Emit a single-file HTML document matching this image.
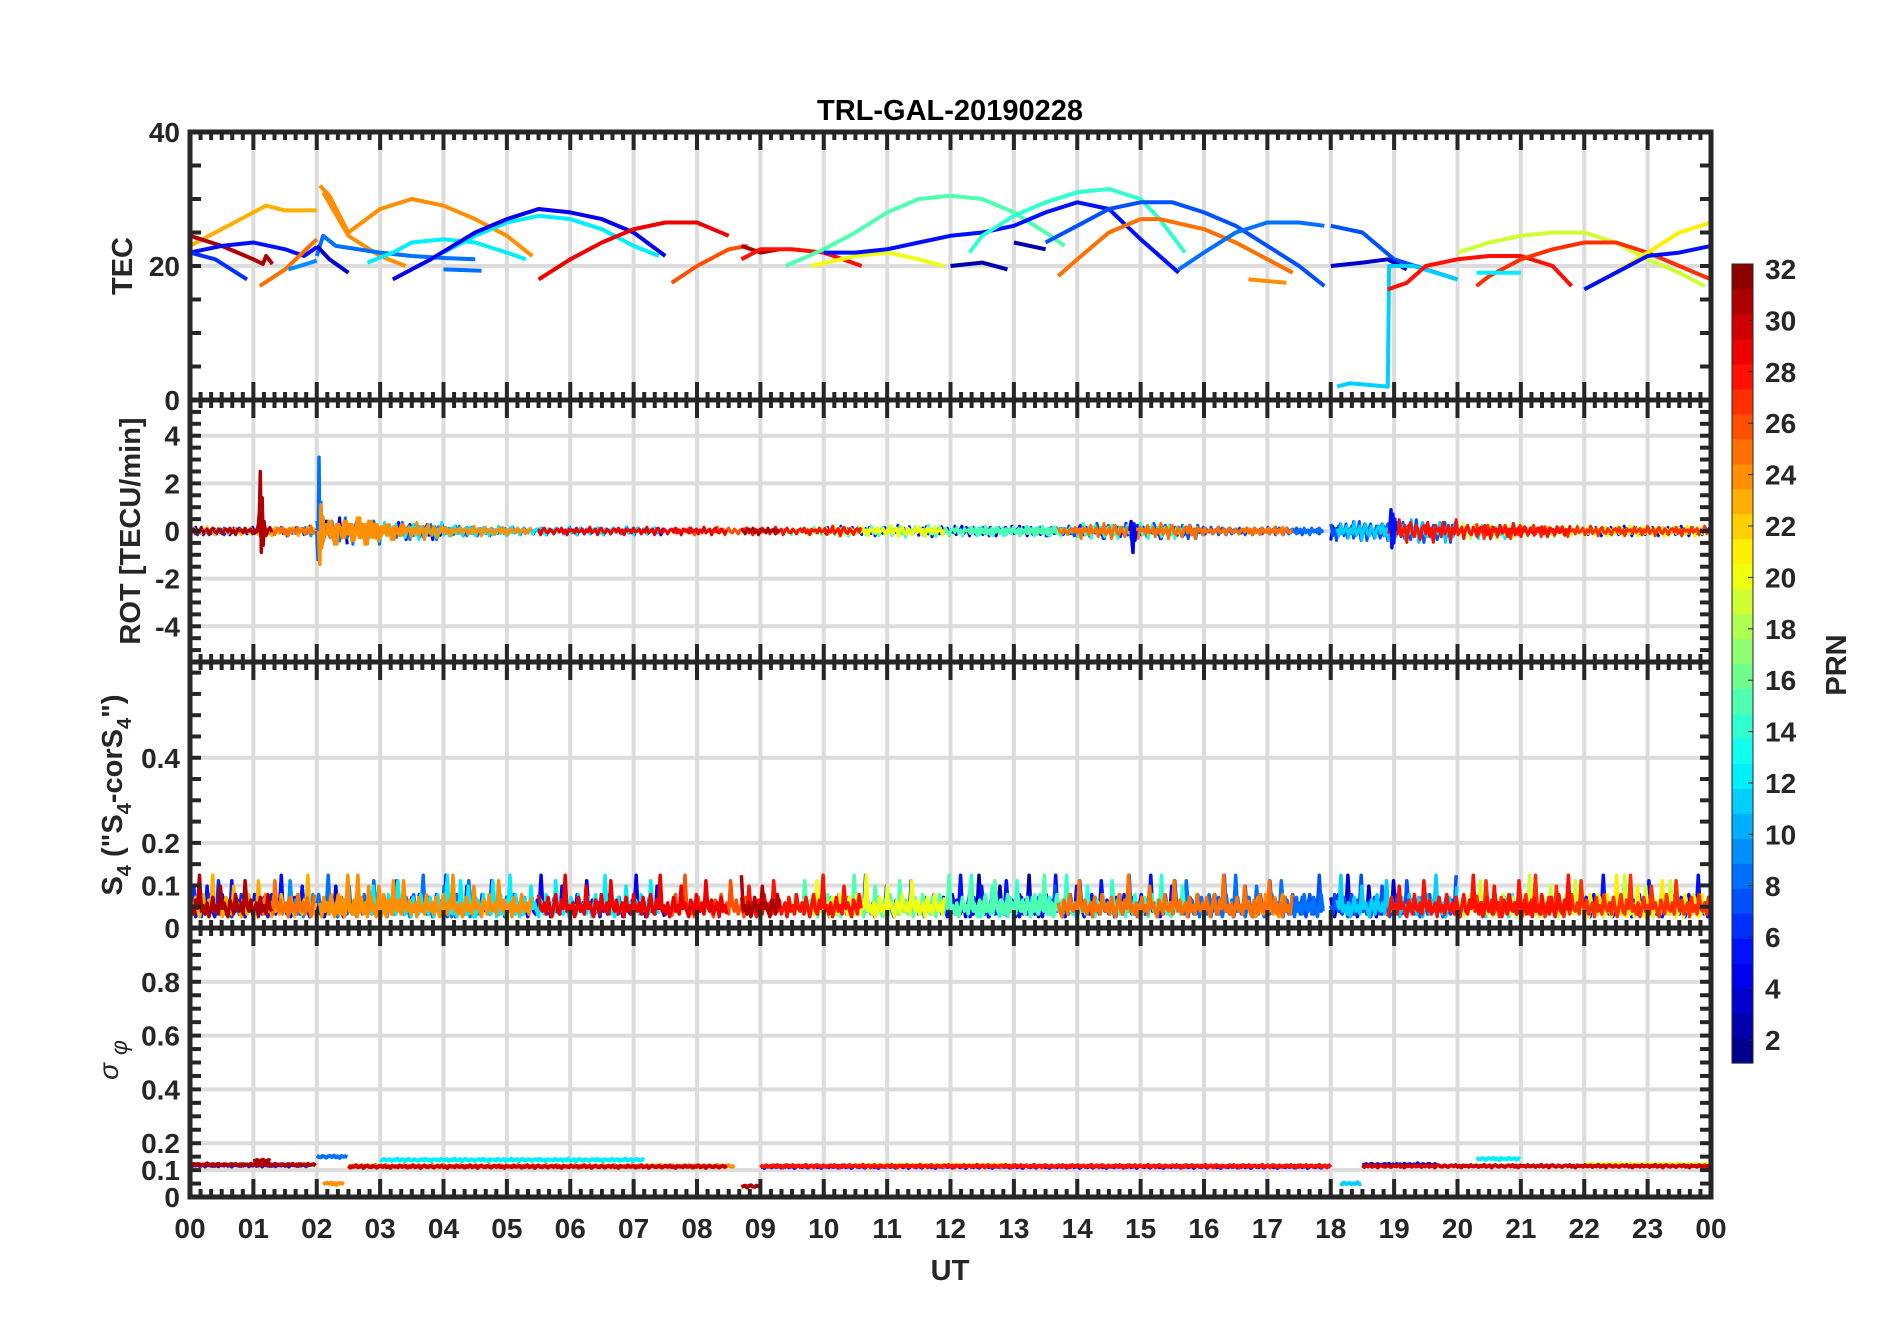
<!DOCTYPE html>
<html><head><meta charset="utf-8"><style>
html,body{margin:0;padding:0;background:#fff;}
svg{display:block;font-family:"Liberation Sans",Arial,sans-serif;}
</style></head><body>
<svg id="fig" width="1902" height="1330" viewBox="0 0 1902 1330" xmlns="http://www.w3.org/2000/svg">
<rect x="0" y="0" width="1902" height="1330" fill="#fff"/>
<g id="grid"></g>
<g id="data"></g>
<g id="axes"></g>
<g id="labels" fill="#262626" font-weight="bold"></g>
<text x="950" y="120" text-anchor="middle" font-size="29" font-weight="bold" fill="#000">TRL-GAL-20190228</text>
<text x="950" y="1280" text-anchor="middle" font-size="29" font-weight="bold" fill="#262626">UT</text>
<text transform="translate(132,266) rotate(-90)" text-anchor="middle" font-size="29" font-weight="bold" fill="#262626">TEC</text>
<text transform="translate(140,531) rotate(-90)" text-anchor="middle" font-size="29" font-weight="bold" fill="#262626">ROT [TECU/min]</text>
<text transform="translate(122,795) rotate(-90)" text-anchor="middle" font-size="29" font-weight="bold" fill="#262626">S<tspan font-size="20" dy="9">4</tspan><tspan dy="-9"> ("S</tspan><tspan font-size="20" dy="9">4</tspan><tspan dy="-9">-corS</tspan><tspan font-size="20" dy="9">4</tspan><tspan dy="-9">")</tspan></text>
<text transform="translate(118,1060) rotate(-90)" text-anchor="middle" font-size="28" font-style="italic" fill="#262626">σ <tspan font-size="23" dy="9">φ</tspan></text>
<g id="cbar"></g>
<text transform="translate(1846,665) rotate(-90)" text-anchor="middle" font-size="29" font-weight="bold" fill="#262626">PRN</text>
</svg>
<script>
// ---------------- data ----------------
const hourLabels = ["00","01","02","03","04","05","06","07","08","09","10","11","12","13","14","15","16","17","18","19","20","21","22","23","00"];
const tecTicks = [0,20,40];
const rotTicks = [-4,-2,0,2,4];
const s4Ticks = [0,0.1,0.2,0.4];
const sigTicks = [0,0.1,0.2,0.4,0.6,0.8];
const cbarTicks = [2,4,6,8,10,12,14,16,18,20,22,24,26,28,30,32];

const tecArcs = [
 {prn:23,t:[0,0.5,1,1.2,1.5,2],v:[23,25.5,28,29,28.3,28.3]},
 {prn:31,t:[0,0.5,1,1.15,1.2,1.3],v:[24.5,23,21,20.3,21.5,20.3]},
 {prn:5,t:[0,0.5,1,1.5,1.8,2],v:[22,23,23.5,22.5,21.5,22.8]},
 {prn:6,t:[0,0.4,0.9],v:[22,21,18]},
 {prn:25,t:[1.1,1.5,2],v:[17,19.5,24]},
 {prn:9,t:[1.55,1.8,2],v:[19.5,20.2,20.8]},
 {prn:24,t:[2.05,2.2,2.5,3,3.5,4,4.5,5,5.4],v:[32,30.5,25,28.5,30,29,27,24.5,21.5]},
 {prn:24,t:[2.1,2.5,3,3.4],v:[31,24.5,21.5,20]},
 {prn:8,t:[2,2.1,2.3,3,3.5,4,4.5],v:[21.5,24.5,23,22,21.5,21.2,21.0]},
 {prn:3,t:[2,2.2,2.5],v:[23,21,19]},
 {prn:12,t:[2.8,3.2,3.5,4,4.5,5,5.3],v:[20.5,22,23.5,24,23.5,22,21]},
 {prn:12,t:[4,4.5,5,5.5,6,6.5,7,7.4],v:[22,24.5,26.5,27.5,27,25.5,23,21.5]},
 {prn:4,t:[3.2,3.8,4.5,5,5.5,6,6.5,7,7.5],v:[18,21,25,27,28.5,28,27,25,21.5]},
 {prn:8,t:[4,4.6],v:[19.5,19.3]},
 {prn:29,t:[5.5,6,6.5,7,7.5,8,8.5],v:[18,21,23.5,25.5,26.5,26.5,24.5]},
 {prn:26,t:[7.6,8,8.5,8.8],v:[17.5,20,22.5,23]},
 {prn:31,t:[8.7,9,9.3],v:[23,22,22.5]},
 {prn:28,t:[8.7,9,9.5,10,10.6],v:[21,22.5,22.5,22,20]},
 {prn:15,t:[9.4,10,10.5,11,11.5,12,12.5,13,13.5,13.8],v:[20,22.5,25,28,30,30.5,30,28,25,23]},
 {prn:20,t:[9.8,10.5,11,11.5,11.9],v:[20,21.5,22,21,20]},
 {prn:5,t:[10,10.5,11,11.5,12,12.5,13,13.5,14,14.5,15,15.6],v:[22,22,22.5,23.5,24.5,25,26,28,29.5,28.5,24,19]},
 {prn:2,t:[12,12.5,12.9],v:[20,20.5,19.5]},
 {prn:2,t:[13,13.5],v:[23.5,22.5]},
 {prn:14,t:[12.3,12.5,13,13.5,14,14.5,15,15.3,15.7],v:[22,24.5,27.5,29.5,31,31.5,30,27,22]},
 {prn:7,t:[13.5,14,14.5,15,15.5,16,16.5,17,17.5,17.9],v:[23.5,26,28.5,29.5,29.5,28,26,23,20,17]},
 {prn:25,t:[13.7,14,14.5,15,15.3,16,16.5,17,17.4],v:[18.5,21,25,27,27,25.5,23.5,21,19]},
 {prn:8,t:[15.6,16,16.5,17,17.5,17.9],v:[19.5,22,25,26.5,26.5,26]},
 {prn:24,t:[16.7,17.3],v:[18,17.5]},
 {prn:7,t:[18,18.5,19,19.5,20],v:[26,25,21,19.5,18]},
 {prn:3,t:[18,18.5,18.9,19.2],v:[20,20.5,21,19.5]},
 {prn:11,t:[18.1,18.3,18.9,18.92,19.3,20],v:[2,2.5,2,20,20,18]},
 {prn:28,t:[18.9,19.2,19.5,20,20.5,21,21.5,21.8],v:[16.5,17.5,20,21,21.5,21.5,20,17]},
 {prn:19,t:[20,20.5,21,21.5,22,22.5,23,23.5,23.9],v:[22,23.5,24.5,25,25,23.5,21,19,17]},
 {prn:27,t:[20.3,20.5,21,21.5,22,22.5,23,23.5,24],v:[17,18.5,21,22.5,23.5,23.5,22,20,18]},
 {prn:12,t:[20.3,21],v:[19,19]},
 {prn:21,t:[22,22.5,23,23.5,24],v:[16.5,19,22,25,26.5]},
 {prn:5,t:[22,22.5,23,23.5,24],v:[16.5,19,21.5,22,23]}
];

const rotJit = [0.1,-0.2,0.3,-0.1,0.0,0.2,-0.3,0.1,-0.1,0.4,-0.2,0.0,0.2,-0.4,0.1,0.3,-0.1,-0.2,0.2,0.0,-0.3,0.1,0.2,-0.1,0.3,-0.2,0.1,-0.4,0.2,0.0];
const rotAmp = [0.4,0.5,1.4,0.9,0.5,0.4,0.4,0.4,0.4,0.4,0.5,0.6,0.5,0.5,0.8,0.8,0.4,0.4,1.0,1.2,0.8,0.6,0.5,0.5];
const rotSpikes = [
 {prn:31,t0:1.08,v:[0.3,0.8,2.5,-0.9,1.4,-0.6,0.4]},
 {prn:8,t0:2.02,v:[-1.2,3.1,-0.8,1.2,-0.5,0.6]},
 {prn:24,t0:2.05,v:[-1.4,1.1,-0.7,0.6,-0.3]},
 {prn:4,t0:14.85,v:[0.4,-0.5,-0.9,0.3,-0.4]},
 {prn:5,t0:18.95,v:[0.9,-0.7,0.7,-0.5,0.5]}
];

const s4Jit = [0.3,0.6,0.2,0.8,0.4,0.1,0.5,0.9,0.3,0.2,0.7,0.4,1.6,0.3,0.5,0.2,0.6,0.1,0.4,0.8,0.3,0.5,0.2,1.2,0.4,0.6,0.3,0.1,0.7,0.5,0.2,0.9,0.4,0.3,0.6,0.2,1.4,0.5,0.3,0.7,0.2,0.4,0.6,0.1,0.8,0.3,0.5,0.2,0.9,0.4];

const sigT0 = [0,0,1.0,2.0,2.1,2.5,3.0,2.5,8.7,9.0,10.5,9.0,18.15,18.5,18.5,20.3,22.0];
const sigT1 = [2.0,1.9,1.3,2.5,2.45,8.6,7.2,8.5,9.0,18.0,13.0,18.0,18.5,24,19.7,21.0,24];
const sigPrn = [31,5,31,8,24,24,12,30,31,28,20,5,11,30,4,12,20];
const sigLvl = [0.12,0.118,0.135,0.15,0.05,0.115,0.138,0.113,0.04,0.115,0.117,0.113,0.05,0.115,0.12,0.142,0.12];

// ---------------- layout ----------------
const L=190, R=1711;
const P = {
 tec:{top:132,bot:400,min:0,max:40},
 rot:{top:400,bot:662,min:-5.5,max:5.5},
 s4:{top:662,bot:928,min:0,max:0.625},
 sig:{top:928,bot:1197,min:0,max:1}
};
const NS="http://www.w3.org/2000/svg";
function xh(h){return L+h*(R-L)/24;}
function yv(p,v){return p.bot-(v-p.min)/(p.max-p.min)*(p.bot-p.top);}
function mk(tag,parent){const e=document.createElementNS(NS,tag);parent.appendChild(e);return e;}
function jet(i,n){const x=(i+0.5)/n;const c=v=>Math.round(255*Math.max(0,Math.min(1,v)));
 return `rgb(${c(1.5-Math.abs(4*x-3))},${c(1.5-Math.abs(4*x-2))},${c(1.5-Math.abs(4*x-1))})`;}
function prnColor(p){return jet(p-1,32);}

const grid=document.getElementById('grid'), data=document.getElementById('data'), axes=document.getElementById('axes'), labels=document.getElementById('labels');

function line(parent,x1,y1,x2,y2,col,w){const l=mk('line',parent);l.setAttribute('x1',x1);l.setAttribute('y1',y1);l.setAttribute('x2',x2);l.setAttribute('y2',y2);l.setAttribute('stroke',col);l.setAttribute('stroke-width',w);return l;}
function poly(parent,pts,col,w,name){const p=mk('polyline',parent);p.setAttribute('points',pts.map(q=>q[0].toFixed(1)+','+q[1].toFixed(1)).join(' '));p.setAttribute('fill','none');p.setAttribute('stroke',col);p.setAttribute('stroke-width',w);p.setAttribute('stroke-linejoin','round');
 
 
 return p;}

// grids
const panels=[['tec',tecTicks,5],['rot',rotTicks,0.5],['s4',s4Ticks,0.05],['sig',sigTicks,0.05]];
panels.forEach(([k,ticks])=>{const p=P[k];
 for(let h=1;h<24;h++) line(grid,xh(h),p.top,xh(h),p.bot,'#dcdcdc',4);
 ticks.forEach(v=>{const y=yv(p,v);if(y>p.top+3&&y<p.bot-3) line(grid,L,y,R,y,'#dcdcdc',4);});
});

// draw order: low PRN first, high PRN on top
const order = tecArcs.map((a,i)=>i).sort((a,b)=>tecArcs[a].prn-tecArcs[b].prn);

// TEC arcs
tecArcs.forEach(a=>{const pts=[];for(let i=0;i<a.t.length;i++)pts.push([xh(a.t[i]),yv(P.tec,a.v[i])]);poly(data,pts,prnColor(a.prn),4,'tec-arc-prn'+a.prn);});

// ROT
order.forEach(ai=>{const a=tecArcs[ai];const pts=[];const t0=a.t[0],t1=a.t[a.t.length-1];let k=ai*3;
 for(let h=t0;h<=t1;h+=0.03){const amp=rotAmp[Math.min(23,Math.floor(h))];pts.push([xh(h),yv(P.rot,rotJit[(k++)%rotJit.length]*amp)]);}
 poly(data,pts,prnColor(a.prn),3,'rot-series-prn'+a.prn);});
rotSpikes.forEach(s=>{const pts=[[xh(s.t0-0.02),yv(P.rot,0)]];s.v.forEach((v,i)=>pts.push([xh(s.t0+i*0.015),yv(P.rot,v)]));pts.push([xh(s.t0+s.v.length*0.015),yv(P.rot,0)]);poly(data,pts,prnColor(s.prn),3.5,'rot-spike-prn'+s.prn);});

// S4
order.forEach(ai=>{const a=tecArcs[ai];const pts=[];const t0=a.t[0],t1=a.t[a.t.length-1];let k=ai*7;
 for(let h=t0;h<=t1;h+=0.03){pts.push([xh(h),yv(P.s4,0.02+0.065*s4Jit[(k++)%s4Jit.length])]);}
 poly(data,pts,prnColor(a.prn),3.5,'s4-series-prn'+a.prn);});

// sigma phi
const sOrder = sigT0.map((t,i)=>i).sort((a,b)=>sigPrn[a]-sigPrn[b]);
sOrder.forEach(i=>{const t0=sigT0[i];const pts=[];let k=i*5;for(let h=t0;h<=sigT1[i];h+=0.03){pts.push([xh(h),yv(P.sig,sigLvl[i]+0.012*rotJit[(k++)%rotJit.length])]);}
 poly(data,pts,prnColor(sigPrn[i]),4,'sigma-series-prn'+sigPrn[i]);});

// axes frames & ticks
panels.forEach(([k,ticks,minor])=>{const p=P[k];
 const r=mk('rect',axes);r.setAttribute('x',L);r.setAttribute('y',p.top);r.setAttribute('width',R-L);r.setAttribute('height',p.bot-p.top);r.setAttribute('fill','none');r.setAttribute('stroke','#262626');r.setAttribute('stroke-width',5);
 
 
 for(let m=0;m<=144;m++){const x=xh(m/6);const len=(m%6===0)?18:8;line(axes,x,p.top,x,p.top+len,'#262626',4);line(axes,x,p.bot,x,p.bot-len,'#262626',4);}
 const n=Math.round((p.max-p.min)/minor);
 for(let j=0;j<=n+1;j++){const v=Math.ceil(p.min/minor)*minor+j*minor;const y=yv(p,v);if(y<p.top-1||y>p.bot+1)continue;line(axes,L,y,L+11,y,'#262626',4);line(axes,R,y,R-11,y,'#262626',4);}
 ticks.forEach(v=>{const t=mk('text',labels);t.setAttribute('x',L-10);t.setAttribute('y',yv(p,v)+10);t.setAttribute('text-anchor','end');t.setAttribute('font-size','28');t.textContent=(k==='rot'&&v<0)?('-'+Math.abs(v)):String(v);
  
  });
});
hourLabels.forEach((s,i)=>{const t=mk('text',labels);t.setAttribute('x',xh(i));t.setAttribute('y',1238);t.setAttribute('text-anchor','middle');t.setAttribute('font-size','28');t.textContent=s;
 
 });

// colorbar
const cb=document.getElementById('cbar');const cbTop=264,cbBot=1063,cbL=1732,cbW=21;
const cv=v=>1040-(v-2)*(1040-269)/30;
for(let i=0;i<32;i++){const r=mk('rect',cb);const y0=cbTop+(31-i)*(cbBot-cbTop)/32;r.setAttribute('x',cbL);r.setAttribute('y',y0);r.setAttribute('width',cbW);r.setAttribute('height',(cbBot-cbTop)/32+0.6);r.setAttribute('fill',jet(i,32));
 
 }
const cbf=mk('rect',cb);cbf.setAttribute('x',cbL);cbf.setAttribute('y',cbTop);cbf.setAttribute('width',cbW);cbf.setAttribute('height',cbBot-cbTop);cbf.setAttribute('fill','none');cbf.setAttribute('stroke','#262626');cbf.setAttribute('stroke-width',1);
cbarTicks.forEach(v=>{const y=cv(v);line(cb,cbL+cbW-5,y,cbL+cbW,y,'#262626',1);const t=mk('text',cb);t.setAttribute('x',cbL+cbW+12);t.setAttribute('y',y+10);t.setAttribute('font-size','28');t.setAttribute('font-weight','bold');t.setAttribute('fill','#262626');t.textContent=v;
 
 });
</script>
</body></html>
